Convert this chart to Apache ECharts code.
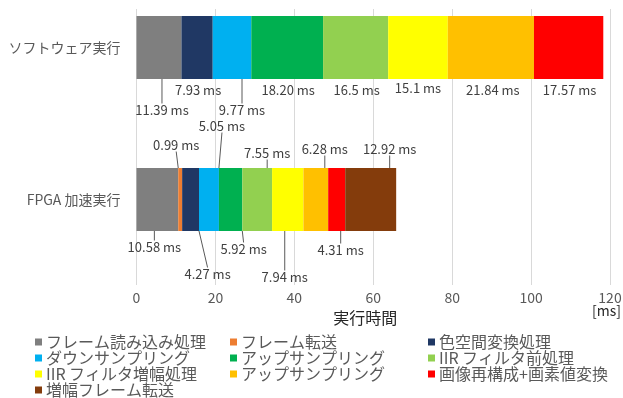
<!DOCTYPE html>
<html>
<head>
<meta charset="utf-8">
<script src="https://cdn.jsdelivr.net/npm/echarts@6/dist/echarts.min.js"></script>
<style>
html,body{margin:0;padding:0;background:#fff;}
#chart{width:623px;height:398px;}
</style>
</head>
<body>
<div id="chart"></div>
<script>
// ---- data ----
const categories = ['ソフトウェア実行', 'FPGA 加速実行'];
const seriesNames = ['フレーム読み込み処理', 'フレーム転送', '色空間変換処理', 'ダウンサンプリング',
  'アップサンプリング', 'IIR フィルタ前処理', 'IIR フィルタ増幅処理', 'アップサンプリング ',
  '画像再構成+画素値変換', '増幅フレーム転送'];
const softwareMs = ['11.39', null, '7.93', '9.77', '18.20', '16.5', '15.1', '21.84', '17.57', null];
const fpgaMs = ['10.58', '0.99', '4.27', '5.05', '5.92', '7.55', '7.94', '6.28', '4.31', '12.92'];
const xMin = 0, xMax = 120, xStep = 20;
const legendColumns = [
  ['フレーム読み込み処理', 'ダウンサンプリング', 'IIR フィルタ増幅処理', '増幅フレーム転送'],
  ['フレーム転送', 'アップサンプリング', 'アップサンプリング '],
  ['色空間変換処理', 'IIR フィルタ前処理', '画像再構成+画素値変換']
];

// ---- styles ----
const colors = ['#7F7F7F', '#ED7D31', '#203864', '#00B0F0', '#00B050', '#92D050', '#FFFF00', '#FFC000', '#FF0000', '#843C0C'];
// label placement per series: [software, fpga] -> [side, dx, dy, leader]
const labelPlace = [
  [['b', 3, 31, true], ['b', -3, 16, true]],
  [null, ['t', -4, 23, true]],
  [['b', 1, 11, false], ['b', 17, 43, true]],
  [['b', 10, 31, true], ['t', 13, 42, true]],
  [['b', 1, 11, false], ['b', 13, 18, true]],
  [['b', 1, 11, false], ['t', 10, 15, true]],
  [['b', 0, 9, false], ['b', -3, 46, true]],
  [['b', 2, 11, false], ['t', 9, 19, true]],
  [['b', 1, 11, false], ['b', 4, 19, true]],
  [null, ['t', 19, 19, true]]
];

const FONT = "'Noto Sans CJK JP', 'Noto Sans', sans-serif";
const chart = echarts.init(document.getElementById('chart'), null, {renderer: 'canvas'});

const series = seriesNames.map((name, si) => {
  const vals = [softwareMs[si], fpgaMs[si]];
  const data = vals.map((v, ci) => {
    if (v == null) return '-';
    const p = labelPlace[si][ci];
    return {value: v, labelLine: {show: !!(p && p[3])}};
  });
  return {
    name: name,
    type: 'bar',
    stack: 'total',
    xAxisIndex: 1,
    yAxisIndex: 1,
    barWidth: 63,
    itemStyle: {color: colors[si]},
    data: data,
    label: {
      show: true,
      position: 'bottom',
      fontFamily: FONT,
      fontSize: 13,
      color: '#404040',
      formatter: (p) => p.data && p.data.value ? p.data.value + ' ms' : ''
    },
    labelLine: {show: false, length2: 0, lineStyle: {color: '#595959', width: 1}},
    labelLayout: function (params) {
      const p = labelPlace[si][params.dataIndex];
      if (!p) return {};
      const r = params.rect;
      const cx = r.x + r.width / 2 + p[1];
      const cy = p[0] === 'b' ? r.y + r.height + p[2] : r.y - p[2];
      return {x: cx, y: cy, align: 'center', verticalAlign: 'middle'};
    },
    emphasis: {disabled: true},
    animation: false
  };
});

const legendLefts = [35, 230, 428];
const legends = legendColumns.map((col, i) => ({
  orient: 'vertical',
  left: legendLefts[i],
  top: 334,
  height: 90,
  padding: 0,
  itemGap: 0,
  itemWidth: 7,
  itemHeight: 7,
  icon: 'rect',
  selectedMode: false,
  data: col,
  textStyle: {fontFamily: FONT, fontSize: 16, lineHeight: 16, color: '#595959', padding: [0, 0, 0, -1]}
}));

chart.setOption({
  animation: false,
  textStyle: {fontFamily: FONT},
  grid: [
    {left: 136.5, right: 13, top: 9, bottom: 113, outerBoundsMode: 'none', containLabel: false},
    {left: 136.5, right: 13, top: -28.5, height: 304, outerBoundsMode: 'none', containLabel: false}
  ],
  xAxis: [
    {
      gridIndex: 0, type: 'value', min: xMin, max: xMax, interval: xStep,
      axisLine: {show: false}, axisTick: {show: false},
      splitLine: {show: true, lineStyle: {color: '#D9D9D9', width: 1}},
      axisLabel: {color: '#595959', fontSize: 14, margin: 6, fontFamily: FONT},
      name: '実行時間', nameLocation: 'middle', nameGap: 22,
      nameTextStyle: {fontSize: 16, color: '#262626', fontFamily: FONT, padding: [0, 16, 0, 0]}
    },
    {gridIndex: 1, type: 'value', min: xMin, max: xMax, show: false}
  ],
  yAxis: [
    {gridIndex: 0, type: 'value', show: false},
    {
      gridIndex: 1, type: 'category', inverse: true, data: categories,
      axisLine: {show: false}, axisTick: {show: false}, splitLine: {show: false},
      axisLabel: {color: '#595959', fontSize: 14, margin: 16, fontFamily: FONT}
    }
  ],
  legend: legends,
  graphic: [{
    type: 'text', left: 592, top: 304,
    style: {text: '[ms]', fontSize: 14, fill: '#262626', fontFamily: FONT}
  }],
  series: series
});
</script>
</body>
</html>
